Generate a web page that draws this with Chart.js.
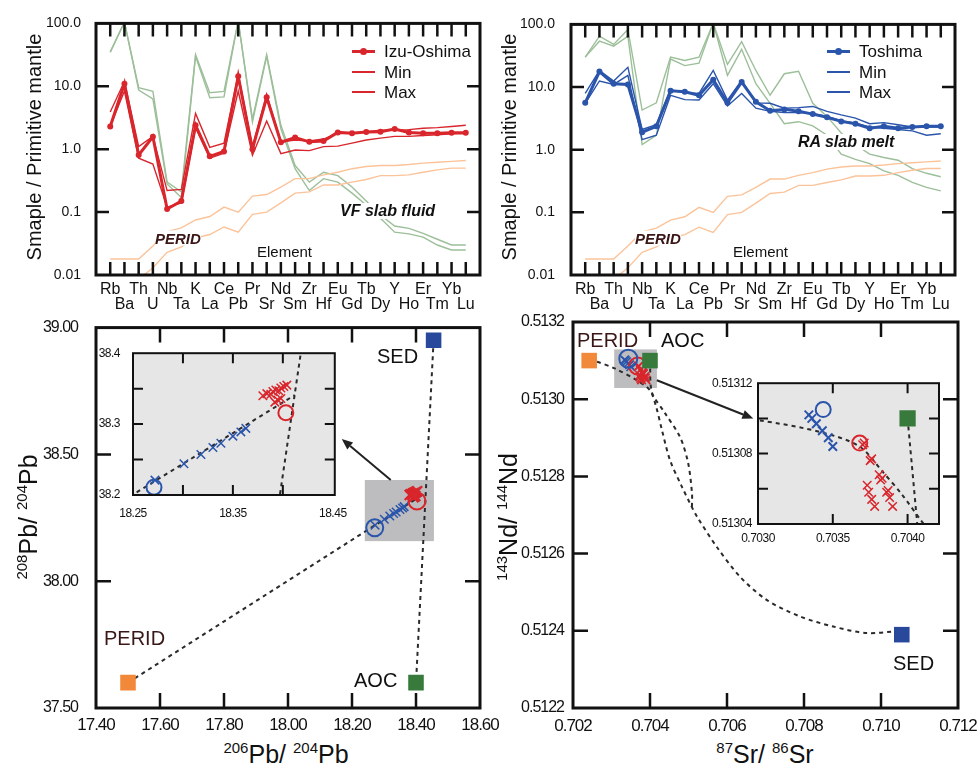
<!DOCTYPE html>
<html>
<head>
<meta charset="utf-8">
<script src="https://cdn.jsdelivr.net/npm/chart.js@4.4.1/dist/chart.umd.min.js"></script>
<style>
    body { margin: 0; background: #fff; width: 977px; height: 766px; overflow: hidden; position: relative;
           font-family: "Liberation Sans", Arial, sans-serif; color: #111; }
    canvas { position: absolute; }
    .t { position: absolute; white-space: nowrap; line-height: 1; }
    .lab { font-size: 20px; }
    .ital { font-style: italic; font-weight: bold; font-size: 16px; background: #fff; }
    .sup { font-size: 15px; position: relative; top: -10px; }
</style>
</head>
<body>
<canvas id="spiderIzu"></canvas>
<canvas id="spiderToshima"></canvas>
<canvas id="pbMain"></canvas>
<canvas id="ndMain"></canvas>
<canvas id="pbInset"></canvas>
<canvas id="ndInset"></canvas>
<script>
// ---- data ----
const elements = ["Rb", "Ba", "Th", "U", "Nb", "Ta", "K", "La", "Ce", "Pb", "Pr", "Sr", "Nd",
                  "Sm", "Zr", "Hf", "Eu", "Gd", "Tb", "Dy", "Y", "Ho", "Er", "Tm", "Yb", "Lu"];
const logTicks = [0.01, 0.1, 1, 10, 100];
const logTickLabels = ["0.01", "0.1", "1.0", "10.0", "100.0"];

const izuMean = [2.3, 11, 0.81, 1.58, 0.112, 0.15, 2.4, 0.77, 0.92, 14.5, 1.0, 6.7, 1.29,
                 1.53, 1.31, 1.35, 1.85, 1.8, 1.87, 1.9, 2.1, 1.85, 1.8, 1.8, 1.83, 1.83];
const izuMin = [2.3, 8.4, 0.72, 0.58, 0.12, 0.14, 2.2, 0.72, 0.86, 8.4, 0.8, 2.8, 0.85,
                0.97, 0.95, 1.1, 1.12, 1.25, 1.4, 1.5, 1.6, 1.6, 1.65, 1.7, 1.75, 1.78];
const izuMax = [3.9, 12, 1.1, 1.6, 0.22, 0.23, 3.7, 1.07, 1.25, 15.5, 1.1, 7.4, 1.3,
                1.4, 1.35, 1.45, 1.8, 1.8, 1.9, 2.0, 2.0, 2.05, 2.15, 2.2, 2.3, 2.4];
const vfFluidA = [35, 105, 9.5, 8.3, 0.3, 0.21, 32, 7.9, 8.3, 110, 3.0, 32, 2.4,
                  0.55, 0.30, 0.43, 0.38, 0.25, 0.15, 0.09, 0.06, 0.055, 0.046, 0.037, 0.03, 0.03];
const vfFluidB = [35, 105, 8.7, 6.3, 0.28, 0.17, 30, 6.6, 6.8, 110, 2.7, 30, 2.1,
                  0.49, 0.22, 0.34, 0.30, 0.20, 0.13, 0.08, 0.048, 0.045, 0.04, 0.03, 0.025, 0.025];

const toshimaMean = [5.6, 17.7, 11.3, 11, 1.9, 2.36, 8.7, 8.4, 7.4, 13.1, 5.6, 12, 5.8,
                     4.2, 4.4, 4.1, 3.7, 3.3, 2.83, 2.6, 2.2, 2.36, 2.2, 2.3, 2.36, 2.36];
const toshimaMin = [5.5, 12.5, 11, 15.4, 1.45, 1.7, 7.4, 6.3, 6.2, 11.3, 5.0, 7.9, 4.6,
                    4.1, 3.9, 3.9, 3.8, 3.4, 2.9, 2.65, 2.3, 2.2, 2.1, 2.0, 1.7, 1.8];
const toshimaMax = [7.9, 18.4, 12.5, 20.7, 2.1, 2.5, 9.0, 8.1, 7.9, 18.4, 6.2, 12.8, 5.6,
                    5.5, 4.6, 4.7, 4.9, 4.1, 3.6, 3.2, 2.6, 2.7, 2.5, 2.3, 2.3, 2.3];
const raMeltA = [30, 65, 48, 83, 4.3, 5.6, 30, 26.5, 30, 105, 23, 53, 18.4,
                 7.4, 16.3, 17.9, 5.5, 3.4, 1.85, 1.2, 0.85, 0.75, 0.68, 0.5, 0.42, 0.37];
const raMeltB = [30, 54, 45, 65, 1.21, 1.7, 28, 22, 24, 105, 15.4, 40, 11.3,
                 5.5, 2.6, 2.8, 2.4, 1.7, 0.85, 0.7, 0.6, 0.46, 0.39, 0.3, 0.25, 0.22];

const peridA = [0.018, 0.018, 0.018, 0.029, 0.049, 0.056, 0.075, 0.085, 0.12, 0.1, 0.18, 0.19, 0.25,
                0.34, 0.34, 0.39, 0.43, 0.49, 0.53, 0.55, 0.55, 0.57, 0.6, 0.62, 0.64, 0.66];
const peridB = [0.004, 0.005, 0.0085, 0.013, 0.023, 0.028, 0.039, 0.044, 0.058, 0.048, 0.092, 0.1, 0.14,
                0.2, 0.21, 0.27, 0.27, 0.3, 0.33, 0.38, 0.38, 0.39, 0.43, 0.47, 0.5, 0.5];

// Pb isotopes
const pbXTicks = [17.4, 17.6, 17.8, 18.0, 18.2, 18.4, 18.6];
const pbYTicks = [37.5, 38.0, 38.5, 39.0];
const endNames = ["PERID", "AOC", "SED"];
const pbEnd206 = [17.50, 18.40, 18.455];
const pbEnd208 = [37.60, 37.60, 38.95];
const toshimaPb206 = [18.272, 18.301, 18.318, 18.330, 18.338, 18.350, 18.358, 18.363];
const toshimaPb208 = [38.221, 38.244, 38.257, 38.267, 38.273, 38.283, 38.289, 38.294];
const izuPb206 = [18.380, 18.384, 18.388, 18.390, 18.393, 18.396, 18.398, 18.401, 18.404, 18.392, 18.395, 18.398];
const izuPb208 = [38.340, 38.343, 38.342, 38.346, 38.348, 38.347, 38.351, 38.353, 38.355, 38.331, 38.334, 38.336];
const toshimaAvgPb = [18.271, 38.211];
const izuAvgPb = [18.403, 38.316];
const pbMixA206 = [17.50, 18.42], pbMixA208 = [37.60, 38.34];
const pbMixB206 = [18.455, 18.40], pbMixB208 = [38.95, 37.60];
const pbInsetA206 = [18.24, 18.412], pbInsetA208 = [38.192, 38.341];
const pbInsetB206 = [18.396, 18.419], pbInsetB208 = [38.19, 38.41];
const pbInsetXTicks = [18.25, 18.35, 18.45];
const pbInsetYTicks = [38.2, 38.3, 38.4];

// Sr-Nd isotopes
const ndXTicks = [0.702, 0.704, 0.706, 0.708, 0.710, 0.712];
const ndYTicks = [0.5122, 0.5124, 0.5126, 0.5128, 0.5130, 0.5132];
const endSr = [0.70242, 0.70400, 0.71054];
const endNd = [0.51310, 0.51310, 0.51239];
const toshimaSr = [0.70334, 0.70336, 0.70339, 0.70343, 0.70347, 0.70350];
const toshimaNd = [0.513102, 0.513100, 0.513097, 0.513093, 0.513089, 0.513084];
const izuSr = [0.70370, 0.70371, 0.70375, 0.70376, 0.70381, 0.70382, 0.70383, 0.70386,
               0.70387, 0.70388, 0.70390, 0.70373, 0.70374, 0.70376, 0.70378];
const izuNd = [0.513085, 0.513086, 0.513076, 0.513077, 0.513068, 0.513065, 0.513066, 0.513058,
               0.513059, 0.513055, 0.513050, 0.513062, 0.513058, 0.513054, 0.513050];
const toshimaAvgSrNd = [0.703436, 0.513105];
const izuAvgSrNd = [0.70368, 0.513086];
const curvePeridSr = [0.70242, 0.70262, 0.70310, 0.70366, 0.70400, 0.70416, 0.70431, 0.70452, 0.70483,
                      0.70504, 0.70522, 0.70573, 0.70634, 0.70703, 0.70790, 0.70876, 0.70963, 0.71050];
const curvePeridNd = [0.51310, 0.513097, 0.513079, 0.513049, 0.513023, 0.51298, 0.51292, 0.512842, 0.512773,
                      0.51273, 0.512696, 0.512618, 0.51254, 0.51248, 0.512437, 0.512411, 0.512394, 0.51240];
const curveAocSr = [0.70400, 0.70405, 0.70439, 0.70478, 0.70499, 0.70509, 0.70509];
const curveAocNd = [0.51310, 0.513018, 0.512964, 0.512902, 0.512835, 0.512757, 0.512721];
const insetCurveSr = [0.70280, 0.70300, 0.70343, 0.70368, 0.70383, 0.70396, 0.70409, 0.70420];
const insetCurveNd = [0.513100, 0.513099, 0.513092, 0.513084, 0.513070, 0.513057, 0.513042, 0.513030];
const insetAocSr = [0.70400, 0.70407];
const insetAocNd = [0.51310, 0.513035];
const ndInsetXTicks = [0.7030, 0.7035, 0.7040];
const ndInsetYTicks = [0.51304, 0.51308, 0.51312];

// ---- styles ----
const RED = "#d8262c", BLUE = "#2a55ab", DKBLUE = "#28489b";
const GREEN_SQ = "#377a3b", ORANGE_SQ = "#f2883a";
const GREEN_LINE = "#9cbf99", ORANGE_LINE = "#fbc39a", DASH = "#2a2a2a";
const SANS = "'Liberation Sans', Arial, sans-serif";
Chart.defaults.color = "#111";

const pts = (xs, ys) => xs.map((x, i) => ({x: x, y: ys[i]}));
const series = vals => vals.map((v, i) => ({x: i, y: v}));

// frame with inward ticks on all four sides
const framePlugin = {
    id: "frame",
    beforeDraw(chart, args, o) {
        const a = chart.chartArea, ctx = chart.ctx;
        if (o.ls !== undefined) ctx.letterSpacing = o.ls + "px";
        if (!o.fill) return;
        ctx.save();
        ctx.fillStyle = o.fill;
        ctx.fillRect(a.left, a.top, a.width, a.height);
        ctx.restore();
    },
    afterDraw(chart, args, o) {
        const a = chart.chartArea, ctx = chart.ctx;
        const xs = chart.scales.x, ys = chart.scales.y;
        ctx.save();
        ctx.strokeStyle = "#111";
        ctx.lineWidth = o.tickWidth;
        ctx.beginPath();
        (o.xTicks || []).forEach(v => {
            const p = xs.getPixelForValue(v);
            ctx.moveTo(p, a.top); ctx.lineTo(p, a.top + o.len);
            ctx.moveTo(p, a.bottom); ctx.lineTo(p, a.bottom - o.len);
        });
        (o.yTicks || []).forEach(v => {
            const p = ys.getPixelForValue(v);
            ctx.moveTo(a.left, p); ctx.lineTo(a.left + o.len, p);
            ctx.moveTo(a.right, p); ctx.lineTo(a.right - o.len, p);
        });
        ctx.stroke();
        ctx.lineWidth = o.width;
        ctx.strokeRect(a.left, a.top, a.width, a.height);
        ctx.restore();
    }
};

// grey zoom box and arrow to the inset
const marksPlugin = {
    id: "marks",
    beforeDatasetsDraw(chart, args, o) {
        if (!o.box) return;
        const xs = chart.scales.x, ys = chart.scales.y, b = o.box, ctx = chart.ctx;
        const x0 = xs.getPixelForValue(b[0]), x1 = xs.getPixelForValue(b[1]);
        const y0 = ys.getPixelForValue(b[2]), y1 = ys.getPixelForValue(b[3]);
        ctx.save();
        ctx.fillStyle = "#bdbdbf";
        ctx.fillRect(Math.min(x0, x1), Math.min(y0, y1), Math.abs(x1 - x0), Math.abs(y1 - y0));
        ctx.restore();
    },
    afterDatasetsDraw(chart, args, o) {
        if (!o.arrow) return;
        const xs = chart.scales.x, ys = chart.scales.y, r = o.arrow, ctx = chart.ctx;
        const x0 = xs.getPixelForValue(r[0]), y0 = ys.getPixelForValue(r[1]);
        const x1 = xs.getPixelForValue(r[2]), y1 = ys.getPixelForValue(r[3]);
        const ang = Math.atan2(y1 - y0, x1 - x0), hl = 11, hw = 4.5;
        const bx = x1 - hl * Math.cos(ang), by = y1 - hl * Math.sin(ang);
        ctx.save();
        ctx.strokeStyle = "#222"; ctx.fillStyle = "#222"; ctx.lineWidth = 2;
        ctx.beginPath(); ctx.moveTo(x0, y0); ctx.lineTo(bx, by); ctx.stroke();
        ctx.beginPath();
        ctx.moveTo(x1, y1);
        ctx.lineTo(bx + hw * Math.sin(ang), by - hw * Math.cos(ang));
        ctx.lineTo(bx - hw * Math.sin(ang), by + hw * Math.cos(ang));
        ctx.closePath(); ctx.fill();
        ctx.restore();
    }
};
Chart.register(framePlugin, marksPlugin);

// put the canvas so the plot area lands on the given page rectangle
function place(id, plot, axisW, axisH, padTop, padRight) {
    const cv = document.getElementById(id);
    const left = plot[0] - axisW, top = plot[1] - padTop;
    cv.style.left = left + "px";
    cv.style.top = top + "px";
    cv.width = plot[2] - left + padRight;
    cv.height = plot[3] + axisH - top;
    return cv;
}

function baseOptions(padTop, padRight, frame, marks) {
    return {
        responsive: false, animation: false, devicePixelRatio: 1,
        layout: {padding: {left: 0, top: padTop, right: padRight, bottom: 0}},
        plugins: {legend: {display: false}, tooltip: {enabled: false}, frame: frame, marks: marks || {}},
        elements: {line: {fill: false}}
    };
}

function linAxis(min, max, ticks, digits, size, pad, fitKey, fitVal) {
    return {
        type: "linear", min: min, max: max,
        grid: {display: false, drawTicks: false}, border: {display: false},
        afterBuildTicks: s => { s.ticks = ticks.map(v => ({value: v})); },
        afterFit: s => { s[fitKey] = fitVal; },
        ticks: {autoSkip: false, maxRotation: 0, minRotation: 0, padding: pad,
                font: {family: SANS, size: size},
                callback: v => Number(v).toFixed(digits)}
    };
}

// ---- spider diagrams ----
function spider(id, plot, axisW, yPad, mean, lo, hi, color, slabA, slabB) {
    const cv = place(id, plot, axisW, 45, 20, 22);
    const opts = baseOptions(20, 22, {width: 3, tickWidth: 2.5, len: 13,
        xTicks: elements.map((e, i) => i), yTicks: [0.1, 1, 10]});
    opts.scales = {
        x: {
            type: "linear", min: -1, max: 26,
            grid: {display: false, drawTicks: false}, border: {display: false},
            afterBuildTicks: s => { s.ticks = elements.map((e, i) => ({value: i})); },
            afterFit: s => { s.height = 45; },
            ticks: {autoSkip: false, maxRotation: 0, minRotation: 0, padding: 7.5,
                    font: {family: SANS, size: 16, lineHeight: "15px"},
                    callback: v => { const i = Math.round(v); return i % 2 ? ["", elements[i]] : elements[i]; }}
        },
        y: {
            type: "logarithmic", min: 0.01, max: 100,
            grid: {display: false, drawTicks: false}, border: {display: false},
            afterBuildTicks: s => { s.ticks = logTicks.map(v => ({value: v})); },
            afterFit: s => { s.width = axisW; },
            ticks: {padding: yPad, font: {family: SANS, size: 14}, callback: (v, i) => logTickLabels[i]}
        }
    };
    const thin = (vals, c) => ({data: series(vals), borderColor: c, borderWidth: 1.4, pointRadius: 0});
    new Chart(cv, {
        type: "line",
        data: {datasets: [
            {data: series(mean), borderColor: color, backgroundColor: color, borderWidth: 3,
             pointRadius: 3, pointBorderWidth: 0},
            thin(lo, color), thin(hi, color),
            thin(peridA, ORANGE_LINE), thin(peridB, ORANGE_LINE),
            thin(slabA, GREEN_LINE), thin(slabB, GREEN_LINE)
        ]},
        options: opts
    });
}
spider("spiderIzu", [96, 20, 480, 275], 96, 15, izuMean, izuMin, izuMax, RED, vfFluidA, vfFluidB);
spider("spiderToshima", [571, 20, 955, 275], 81, 16, toshimaMean, toshimaMin, toshimaMax, BLUE, raMeltA, raMeltB);

// ---- isotope panels ----
const endColors = [ORANGE_SQ, GREEN_SQ, DKBLUE];
const dashed = (xs, ys, tension) => ({data: pts(xs, ys), showLine: true, borderColor: DASH, borderWidth: 2,
    borderDash: [4, 4], pointRadius: 0, tension: tension || 0});
const crosses = (xs, ys, c, r, w) => ({data: pts(xs, ys), pointStyle: "crossRot", pointRadius: r,
    borderColor: c, pointBorderWidth: w});
const circle = (p, c, r) => ({data: [{x: p[0], y: p[1]}], pointStyle: "circle", pointRadius: r,
    borderColor: c, backgroundColor: "rgba(0,0,0,0)", pointBorderWidth: 2});
const squares = (xs, ys, r, colors) => ({data: pts(xs, ys), pointStyle: "rect", pointRadius: r,
    pointBackgroundColor: colors, pointBorderWidth: 0, borderColor: "rgba(0,0,0,0)"});

function scatter(id, plot, axisW, axisH, padTop, padRight, xAx, yAx, frame, marks, datasets) {
    const cv = place(id, plot, axisW, axisH, padTop, padRight);
    const opts = baseOptions(padTop, padRight, frame, marks);
    opts.scales = {x: xAx, y: yAx};
    new Chart(cv, {type: "scatter", data: {datasets: datasets}, options: opts});
}

scatter("pbMain", [96, 322, 480, 708], 96, 30, 22, 30,
    linAxis(17.4, 18.6, pbXTicks, 2, 17, 7, "height", 30),
    linAxis(37.5, 39.0, pbYTicks, 2, 16, 18, "width", 96),
    {width: 3, tickWidth: 2.5, len: 15, ls: -1, xTicks: [17.6, 17.8, 18.0, 18.2, 18.4], yTicks: [38.0, 38.5]},
    {box: [18.24, 18.456, 38.158, 38.399], arrow: [18.321, 38.399, 18.168, 38.561]},
    [squares(pbEnd206, pbEnd208, 11, endColors),
     circle(toshimaAvgPb, BLUE, 8.5), circle(izuAvgPb, RED, 8.5),
     crosses(izuPb206, izuPb208, RED, 7, 2), crosses(toshimaPb206, toshimaPb208, BLUE, 6, 1.5),
     dashed(pbMixA206, pbMixA208), dashed(pbMixB206, pbMixB208)]);

scatter("ndMain", [573, 322, 958, 708], 83, 30, 22, 30,
    linAxis(0.702, 0.712, ndXTicks, 3, 17, 8, "height", 30),
    linAxis(0.5122, 0.5132, ndYTicks, 4, 16, 9, "width", 83),
    {width: 3, tickWidth: 2.5, len: 15, ls: -1, xTicks: [0.704, 0.706, 0.708, 0.710], yTicks: [0.5124, 0.5126, 0.5128, 0.5130]},
    {box: [0.70307, 0.70418, 0.513029, 0.513129], arrow: [0.704178, 0.513049, 0.706684, 0.51295]},
    [squares(endSr, endNd, 11, endColors),
     circle(toshimaAvgSrNd, BLUE, 9), circle(izuAvgSrNd, RED, 8.5),
     crosses(izuSr, izuNd, RED, 6, 1.5), crosses(toshimaSr, toshimaNd, BLUE, 6, 1.5),
     dashed(curvePeridSr, curvePeridNd, 0.3), dashed(curveAocSr, curveAocNd, 0.3)]);

scatter("pbInset", [133, 343, 339, 495], 45, 28, 10, 20,
    linAxis(18.25, 18.452, pbInsetXTicks, 2, 12, 11, "height", 28),
    linAxis(38.2, 38.4, pbInsetYTicks, 1, 12, 13, "width", 45),
    {width: 2, tickWidth: 2, len: 10, ls: -0.5, fill: "#e6e6e6", xTicks: [18.30, 18.35, 18.40], yTicks: [38.25, 38.30, 38.35]},
    {},
    [circle(toshimaAvgPb, BLUE, 7.5), circle(izuAvgPb, RED, 7.5),
     crosses(izuPb206, izuPb208, RED, 6, 1.5), crosses(toshimaPb206, toshimaPb208, BLUE, 6, 1.5),
     dashed(pbInsetA206, pbInsetA208), dashed(pbInsetB206, pbInsetB208)]);

scatter("ndInset", [758, 380, 939, 524], 60, 26, 10, 12,
    linAxis(0.7030, 0.70421, ndInsetXTicks, 4, 12, 7, "height", 26),
    linAxis(0.51304, 0.51312, ndInsetYTicks, 5, 12, 6, "width", 60),
    {width: 2, tickWidth: 2, len: 10, ls: -0.5, fill: "#e6e6e6", xTicks: [0.7035, 0.7040], yTicks: [0.51306, 0.51308, 0.51310]},
    {},
    [squares([endSr[1]], [endNd[1]], 11.5, [GREEN_SQ]),
     circle(toshimaAvgSrNd, BLUE, 7.5), circle(izuAvgSrNd, RED, 7.5),
     crosses(izuSr, izuNd, RED, 6, 1.5), crosses(toshimaSr, toshimaNd, BLUE, 6, 2),
     dashed(insetCurveSr, insetCurveNd, 0.3), dashed(insetAocSr, insetAocNd)]);

// ---- text ----
function addText(html, x, y, cls, mode, css) {
    const d = document.createElement("div");
    d.className = "t " + (cls || "");
    d.innerHTML = html;
    if (css) d.style.cssText += css;
    d.style.left = x + "px";
    d.style.top = y + "px";
    d.style.transform = mode === "rot" ? "translate(-50%,-50%) rotate(-90deg)"
        : mode === "center" ? "translate(-50%,-50%)" : "translateY(-50%)";
    document.body.appendChild(d);
}
function legend(x, y, color, names) {
    names.forEach((n, i) => {
        const yy = y + i * 20.5;
        const ln = document.createElement("div");
        ln.style.cssText = "position:absolute;left:" + x + "px;top:" + (yy - (i ? 1 : 1.5)) + "px;width:23px;height:" +
            (i ? 2 : 3) + "px;background:" + color;
        document.body.appendChild(ln);
        if (i === 0) {
            const dot = document.createElement("div");
            dot.style.cssText = "position:absolute;left:" + (x + 8) + "px;top:" + (yy - 3.5) +
                "px;width:7px;height:7px;border-radius:50%;background:" + color;
            document.body.appendChild(dot);
        }
        addText(n, x + 32, yy, "", "", "font-size:17px");
    });
}

addText("Smaple / Primitive mantle", 34, 147, "", "rot", "font-size:20px");
addText("Smaple / Primitive mantle", 509, 147, "", "rot", "font-size:20px");
legend(352, 51, RED, ["Izu-Oshima", "Min", "Max"]);
legend(827, 51, BLUE, ["Toshima", "Min", "Max"]);
addText("VF slab fluid", 340, 211, "ital");
addText("RA slab melt", 798, 142, "ital");
addText("PERID", 155, 238, "ital", "", "font-size:15px;color:#3a1616");
addText("PERID", 635, 238, "ital", "", "font-size:15px;color:#3a1616");
addText("Element", 257, 251, "", "", "font-size:15px");
addText("Element", 733, 251, "", "", "font-size:15px");

addText(endNames[2], 377, 356, "lab");
addText(endNames[0], 104, 638, "lab", "", "color:#3a1616");
addText(endNames[1], 354, 680, "lab");
addText(endNames[0], 577, 340, "lab", "", "color:#3a1616");
addText(endNames[1], 661, 340, "lab");
addText(endNames[2], 893, 663, "lab");

addText('<span class="sup">206</span>Pb/ <span class="sup">204</span>Pb', 286, 754, "", "center", "font-size:25px");
addText('<span class="sup">87</span>Sr/ <span class="sup">86</span>Sr', 765, 754, "", "center", "font-size:25px");
addText('<span class="sup">208</span>Pb/ <span class="sup">204</span>Pb', 28, 517, "", "rot", "font-size:25px");
addText('<span class="sup">143</span>Nd/ <span class="sup">144</span>Nd', 508, 517, "", "rot", "font-size:25px");
</script>
</body>
</html>
